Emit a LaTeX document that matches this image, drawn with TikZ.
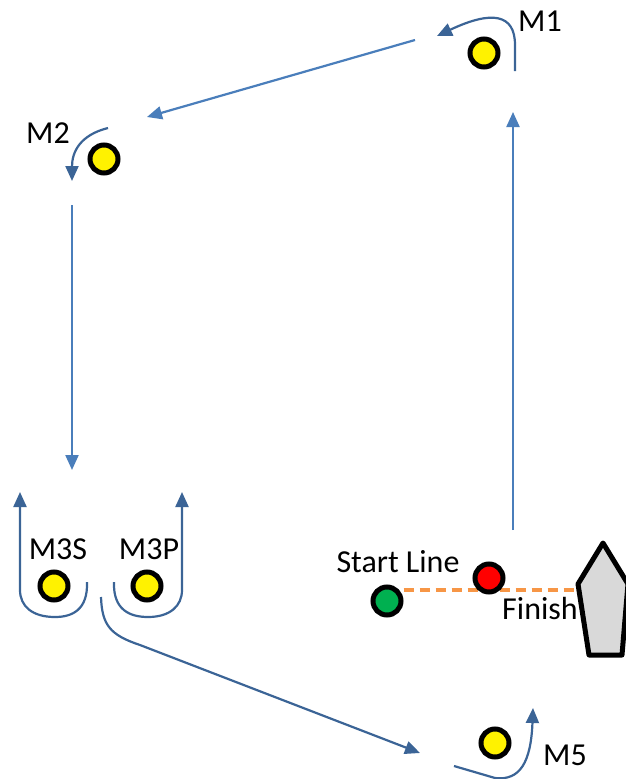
\documentclass[tikz,border=0pt]{standalone}
\usepackage{fontspec}
\setmainfont{Carlito}
\usetikzlibrary{arrows.meta}
\definecolor{legblue}{HTML}{4A7EBB}
\definecolor{rndblue}{HTML}{3B6496}
\definecolor{lineorange}{HTML}{F79646}
\definecolor{startgreen}{HTML}{00B050}
\definecolor{boatgray}{HTML}{D9D9D9}
\tikzset{
  buoy/.style={circle, draw=black, line width=5pt, minimum size=28pt, inner sep=0pt},
  leg/.style={legblue, line width=2.2pt, -{Triangle[length=15pt,width=13pt]}},
  rounding/.style={rndblue, line width=2.2pt, -{Triangle[length=15pt,width=13pt]}},
  lbl/.style={inner sep=0pt, font=\fontsize{32}{38}\selectfont}
}
\begin{document}
\begin{tikzpicture}[x=1pt,y=-1pt]
            \useasboundingbox (0,0) rectangle (625,779);
            % marks
            \node[buoy, fill=yellow] (m1) at (484,53) {};
            \node[buoy, fill=yellow] (m2) at (104,159) {};
            \node[buoy, fill=yellow] (m3s) at (54,586) {};
            \node[buoy, fill=yellow] (m3p) at (147,586) {};
            \node[buoy, fill=yellow] (m5) at (495,743) {};
            \node[buoy, fill=startgreen] (pin) at (387,601) {};
            \node[lbl] (m1lbl) at (540,21) {M1};
            \node[lbl] (m2lbl) at (48,133) {M2};
            \node[lbl] (m3slbl) at (58,549) {M3S};
            \node[lbl] (m3plbl) at (149,549) {M3P};
            \node[lbl] (m5lbl) at (565,755) {M5};
            \node[lbl] (startlbl) at (398,562) {Start Line};
            \node[lbl] (finlbl) at (540,608) {Finish};
            % committee boat
            \draw[black, line width=5pt, fill=boatgray, line join=round] (603,543) -- (578,584) -- (589,655) -- (622,655) -- (628,584) -- cycle;
            \coordinate (boatside) at (578,590);
            \draw[lineorange, line width=3.5pt, dash pattern=on 10pt off 6pt] (pin.east |- boatside) -- (boatside);
            \node[buoy, fill=red] (finbuoy) at (489,578) {};
            % legs
            \coordinate (upstart) at (513,530);
            \coordinate (upend) at (513,112);
            \coordinate (beatstart) at (415,40);
            \coordinate (beatend) at (147,117);
            \coordinate (runstart) at (72,205);
            \coordinate (runend) at (72,470);
            \coordinate (reachend) at (420,753);
            \draw[leg] (upstart) -- (upend);
            \draw[leg] (beatstart) -- (beatend);
            \draw[leg] (runstart) -- (runend);
            % roundings
            \draw[rounding] (515,71) -- (515,45) .. controls (515,14) and (492,10) .. (437,36);
            \draw[rounding] (108,128) .. controls (80,135) and (72,152) .. (72,181);
            \draw[rounding] (87,582) .. controls (88,610) and (72,617) .. (55,617) .. controls (32,617) and (20,606) .. (20,590) -- (20,492);
            \draw[rounding] (114,582) .. controls (113,610) and (130,617) .. (148,617) .. controls (170,617) and (182,606) .. (182,590) -- (182,492);
            \draw[rounding] (101,597) .. controls (102,625) and (110,635) .. (140,645) -- (reachend);
            \draw[rounding] (454,766) -- (495,778) .. controls (520,781) and (531,762) .. (533,708);
        \end{tikzpicture}
\end{document}
